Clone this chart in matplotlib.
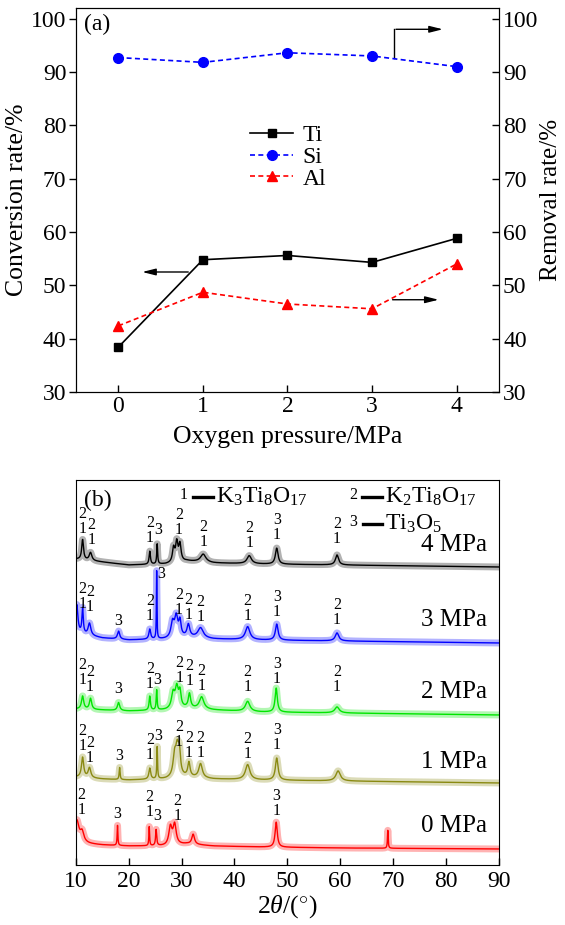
import numpy as np
import matplotlib
matplotlib.use("Agg")
import matplotlib.pyplot as plt
from matplotlib.lines import Line2D

plt.rcParams["font.family"] = "Liberation Serif"
plt.rcParams["mathtext.fontset"] = "custom"
plt.rcParams["mathtext.rm"] = "Liberation Serif"
plt.rcParams["mathtext.it"] = "Liberation Serif:italic"

# ---- (a) leaching results vs oxygen pressure ----
pressure = [0, 1, 2, 3, 4]
ti_conversion = [38.4, 54.8, 55.6, 54.3, 58.8]
si_removal = [92.7, 91.8, 93.6, 93.0, 91.0]
al_removal = [42.4, 48.7, 46.5, 45.6, 54.0]

# ---- (b) XRD patterns, bottom to top ----
xrd_names = ["0 MPa", "1 MPa", "2 MPa", "3 MPa", "4 MPa"]
xrd_colors = ["#ff0000", "#8a8a12", "#00e600", "#0000ff", "#000000"]
baseline_knots = [10, 15, 20, 27, 31, 36, 45, 60, 90]
xrd_baselines = [
    [22, 20, 19, 19, 21, 19, 18, 17, 16],
    [88, 86, 85, 86, 88, 86, 85, 84, 82],
    [156, 155, 154, 155, 157, 155, 153, 152, 150],
    [232, 227, 225, 226, 228, 226, 225, 224, 222],
    [306, 303, 300, 301, 304, 302, 301, 300, 298],
]
# (2theta, height, half width)
xrd_peaks = [
    [(10.2, 22, 0.5), (11.2, 10, 0.4), (17.9, 20, 0.08), (23.9, 19, 0.08),
     (25.2, 16, 0.12), (27.9, 18, 0.35), (28.7, 20, 0.35), (32.2, 10, 0.3),
     (47.9, 25, 0.25), (69.0, 18, 0.08)],
    [(11.3, 20, 0.25), (12.6, 10, 0.3), (18.3, 12, 0.1), (24.0, 11, 0.2),
     (25.4, 32, 0.08), (28.7, 20, 0.35), (29.2, 26, 0.35), (29.6, 20, 0.25),
     (31.4, 14, 0.25), (33.6, 14, 0.4), (42.5, 15, 0.5), (48.0, 22, 0.3),
     (59.6, 10, 0.5)],
    [(11.3, 13, 0.25), (12.8, 11, 0.25), (18.1, 8, 0.25), (24.0, 14, 0.15),
     (25.3, 20, 0.1), (28.4, 15, 0.35), (29.1, 20, 0.35), (29.7, 15, 0.25),
     (31.5, 14, 0.25), (33.8, 12, 0.5), (42.5, 10, 0.5), (47.9, 24, 0.25),
     (59.4, 6, 0.5)],
    [(10.2, 28, 0.25), (11.3, 25, 0.15), (12.6, 12, 0.3), (18.1, 8, 0.25),
     (24.0, 10, 0.2), (25.3, 68, 0.06), (28.3, 15, 0.35), (29.0, 20, 0.35),
     (29.7, 15, 0.25), (31.3, 12, 0.3), (33.6, 10, 0.6), (42.5, 13, 0.5),
     (48.0, 16, 0.3), (59.4, 8, 0.4)],
    [(11.3, 20, 0.2), (12.8, 8, 0.3), (24.0, 13, 0.15), (25.4, 20, 0.1),
     (28.5, 14, 0.25), (29.1, 19, 0.25), (29.7, 17, 0.25), (34.1, 8, 0.6),
     (42.8, 8, 0.5), (48.0, 16, 0.3), (59.4, 10, 0.35)],
]
# phase marks: (2theta, y of label bottom, text)
xrd_marks = [
    [(11.1, 47, "2\n1"), (17.9, 43, "3"), (23.9, 45, "2\n1"), (25.4, 41, "3"),
     (29.2, 41, "2\n1"), (47.9, 46, "3\n1")],
    [(11.3, 111, "2\n1"), (12.7, 99, "2\n1"), (18.3, 101, "3"), (24.0, 102, "2\n1"),
     (25.5, 121, "3"), (29.5, 115, "2\n1"), (31.4, 104, "2\n1"), (33.6, 104, "2\n1"),
     (42.5, 103, "2\n1"), (48.0, 112, "3\n1")],
    [(11.3, 177, "2\n1"), (12.7, 170, "2\n1"), (18.1, 168, "3"), (24.0, 173, "2\n1"),
     (25.4, 177, "3"), (29.6, 179, "2\n1"), (31.5, 176, "2\n1"), (33.8, 171, "2\n1"),
     (42.5, 170, "2\n1"), (48.0, 178, "3\n1"), (59.4, 170, "2\n1")],
    [(11.3, 253, "2\n1"), (12.7, 250, "2\n1"), (18.1, 236, "3"), (24.0, 241, "2\n1"),
     (26.1, 283, "3"), (29.5, 247, "2\n1"), (31.3, 242, "2\n1"), (33.6, 240, "2\n1"),
     (42.5, 241, "2\n1"), (48.0, 245, "3\n1"), (59.4, 237, "2\n1")],
    [(11.3, 328, "2\n1"), (13.0, 317, "2\n1"), (24.0, 319, "2\n1"), (25.6, 327, "3"),
     (29.5, 327, "2\n1"), (34.1, 315, "2\n1"), (42.8, 314, "2\n1"), (48.0, 322, "3\n1"),
     (59.4, 318, "2\n1")],
]
name_y = [39, 103, 173, 245, 320]

fig = plt.figure(figsize=(5.65, 9.25), dpi=100)

# ================= panel (a) =================
ax = fig.add_axes([0.1345, 0.5762, 0.7485, 0.4152])
ax2 = ax.twinx()
l_ti, = ax.plot(pressure, ti_conversion, color="black", lw=1.2, marker="s", ms=6, label="Ti")
l_si, = ax2.plot(pressure, si_removal, color="blue", lw=1.2, ls=(0, (3, 2)), marker="o", ms=7, label="Si")
l_al, = ax2.plot(pressure, al_removal, color="red", lw=1.2, ls=(0, (3, 2)), marker="^", ms=7, label="Al")

for a in (ax, ax2):
    a.set_xlim(-0.5, 4.5)
    a.set_ylim(30, 102)
    a.set_yticks(range(30, 101, 10))
    a.tick_params(labelsize=17, direction="in", length=5, width=1, pad=3)
ax.set_xticks(pressure)
ax.tick_params(axis="y", direction="out", pad=2)
ax.set_xlabel("Oxygen pressure/MPa", fontsize=18.5, labelpad=6)
ax.set_ylabel("Conversion rate/%", fontsize=18.5, labelpad=2)
ax2.set_ylabel("Removal rate/%", fontsize=18, labelpad=1)
ax.text(0.02, 0.985, "(a)", transform=ax.transAxes, fontsize=17, va="top")

ax.legend(handles=[l_ti, l_si, l_al], loc="upper left", bbox_to_anchor=(0.39, 0.72),
          frameon=False, fontsize=17, handlelength=1.8, handletextpad=0.4,
          labelspacing=0.0, borderaxespad=0)

arrow = dict(arrowstyle="-|>,head_length=0.8,head_width=0.2", color="black", lw=1.0)
ax.annotate("", xy=(0.25, 52.5), xytext=(0.86, 52.5), arrowprops=arrow)
ax.annotate("", xy=(3.82, 47.3), xytext=(3.21, 47.3), arrowprops=arrow)
ax.plot([3.26, 3.26], [92.6, 98.0], color="black", lw=1.0)
ax.annotate("", xy=(3.87, 98.0), xytext=(3.25, 98.0), arrowprops=arrow)

# ================= panel (b) =================
bx = fig.add_axes([0.134, 0.0649, 0.749, 0.4162])
two_theta = np.linspace(10, 90, 4000)
for base, peaks, marks, name, ny, col in zip(xrd_baselines, xrd_peaks, xrd_marks,
                                            xrd_names, name_y, xrd_colors):
    y = np.interp(two_theta, baseline_knots, base)
    for pos, h, w in peaks:
        y = y + h / (1 + ((two_theta - pos) / w) ** 2)
    bx.plot(two_theta, y, color=col, lw=5, alpha=0.3)
    bx.plot(two_theta, y, color=col, lw=1.0)
    for pos, yb, txt in marks:
        bx.text(pos, yb, txt, fontsize=11.5, ha="center", va="bottom", linespacing=0.95)
    bx.text(87.7, ny, name, fontsize=18, ha="right", va="center")

bx.set_xlim(10, 90)
bx.set_ylim(0, 385)
bx.set_yticks([])
bx.set_xticks(range(10, 91, 10))
bx.tick_params(axis="x", labelsize=17, direction="in", length=5, width=1, pad=4)
bx.set_xlabel(r"2$\it{\theta}$/($^{\circ}$)", fontsize=18.5, labelpad=1)
bx.text(0.02, 0.975, "(b)", transform=bx.transAxes, fontsize=17, va="top")

# phase legend
phases = [("1", r"K$_3$Ti$_8$O$_{17}$", 0.256, 0.957),
          ("2", r"K$_2$Ti$_8$O$_{17}$", 0.655, 0.957),
          ("3", r"Ti$_3$O$_5$", 0.656, 0.885)]
for num, formula, fx, fy in phases:
    bx.text(fx, fy + 0.005, num, transform=bx.transAxes, fontsize=11.5, ha="center", va="center")
    bx.add_line(Line2D([fx + 0.022, fx + 0.068], [fy, fy], transform=bx.transAxes,
                       color="black", lw=2.4))
    bx.text(fx + 0.076, fy, formula, transform=bx.transAxes, fontsize=17, va="center")

fig.savefig("out.png", dpi=100)
